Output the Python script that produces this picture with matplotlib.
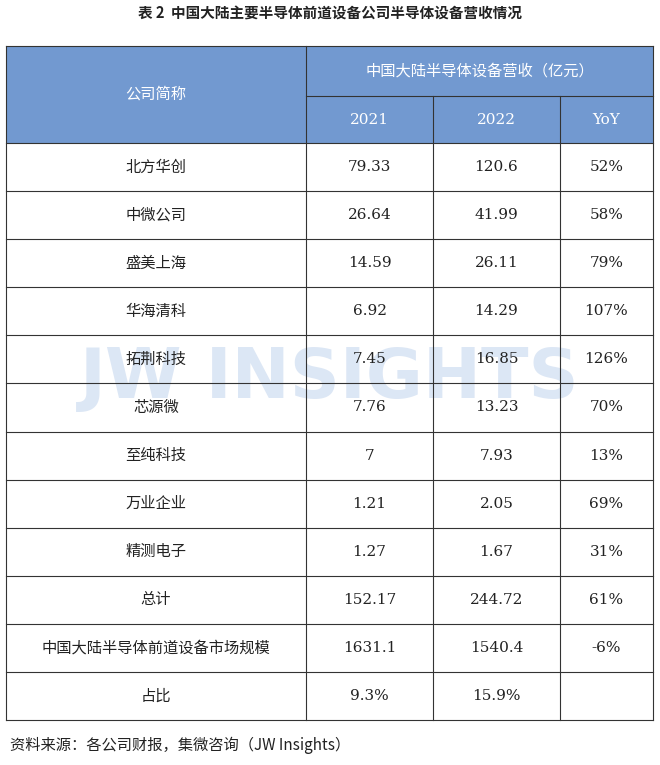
import matplotlib
matplotlib.use('Agg')
import matplotlib.pyplot as plt
from matplotlib.patches import Rectangle

plt.rcParams['font.family'] = 'Noto Sans CJK SC'

companies = ['北方华创', '中微公司', '盛美上海', '华海清科', '拓荆科技', '芯源微',
             '至纯科技', '万业企业', '精测电子', '总计', '中国大陆半导体前道设备市场规模', '占比']
rev_2021 = ['79.33', '26.64', '14.59', '6.92', '7.45', '7.76', '7', '1.21', '1.27',
            '152.17', '1631.1', '9.3%']
rev_2022 = ['120.6', '41.99', '26.11', '14.29', '16.85', '13.23', '7.93', '2.05', '1.67',
            '244.72', '1540.4', '15.9%']
yoy = ['52%', '58%', '79%', '107%', '126%', '70%', '13%', '69%', '31%', '61%', '-6%', '']

W, H = 660, 765
fig = plt.figure(figsize=(W / 100, H / 100), dpi=100)
ax = fig.add_axes([0, 0, 1, 1])
ax.set_xlim(0, W)
ax.set_ylim(H, 0)
ax.axis('off')

cols = [6, 306, 433, 560, 653]
top, mid, head_bot, bottom = 46, 96, 143, 720
header_color = '#7299d0'
line_color = '#333333'

# header background
ax.add_patch(Rectangle((cols[0], top), cols[-1] - cols[0], head_bot - top,
                       facecolor=header_color, edgecolor='none'))

ax.text(330, 14, '表 2  中国大陆主要半导体前道设备公司半导体设备营收情况',
        ha='center', va='center', fontsize=10.5, fontweight='bold', color='#222222')

# watermark (drawn first, behind text)
ax.text(330, 378, 'JW INSIGHTS', ha='center', va='center', fontsize=50,
        fontweight='bold', color='#a9c3e6', alpha=0.4, family='DejaVu Sans', zorder=0)

ax.text((cols[0] + cols[1]) / 2, (top + head_bot) / 2, '公司简称',
        ha='center', va='center', fontsize=11, color='white')
ax.text((cols[1] + cols[-1]) / 2, (top + mid) / 2, '中国大陆半导体设备营收（亿元）',
        ha='center', va='center', fontsize=11, color='white')
for i, lab in enumerate(['2021', '2022', 'YoY']):
    ax.text((cols[i + 1] + cols[i + 2]) / 2, (mid + head_bot) / 2, lab,
            ha='center', va='center', fontsize=11, color='white', family='DejaVu Serif')

row_h = (bottom - head_bot) / len(companies)
for r in range(len(companies)):
    yc = head_bot + (r + 0.5) * row_h
    vals = [companies[r], rev_2021[r], rev_2022[r], yoy[r]]
    for c, v in enumerate(vals):
        fam = 'Noto Sans CJK SC' if c == 0 else 'DejaVu Serif'
        ax.text((cols[c] + cols[c + 1]) / 2, yc, v, ha='center', va='center',
                fontsize=11, color='#222222', family=fam, zorder=3)

# grid lines
lw = 0.8
ax.plot([cols[0], cols[-1]], [top, top], color=line_color, lw=lw)
ax.plot([cols[1], cols[-1]], [mid, mid], color=line_color, lw=lw)
for r in range(len(companies) + 1):
    y = head_bot + r * row_h
    ax.plot([cols[0], cols[-1]], [y, y], color=line_color, lw=lw)
for i, x in enumerate(cols):
    y0 = top if i in (0, 1, len(cols) - 1) else mid
    ax.plot([x, x], [y0, bottom], color=line_color, lw=lw)

ax.text(10, 745, '资料来源：各公司财报，集微咨询（JW Insights）', ha='left', va='center',
        fontsize=11, style='italic', color='#222222')

fig.savefig('out.png', dpi=100)
